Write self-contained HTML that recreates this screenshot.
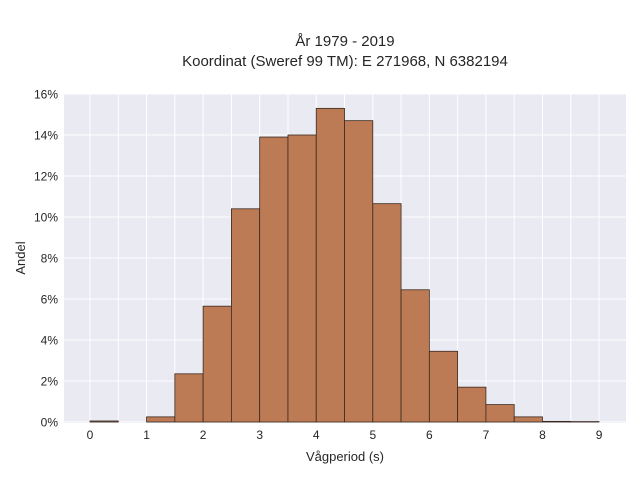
<!DOCTYPE html>
<html><head><meta charset="utf-8"><style>
body{margin:0;background:#fff;}
svg text{font-family:"Liberation Sans",sans-serif;fill:#262626;}
</style></head><body>
<svg width="640" height="480">
<rect x="0" y="0" width="640" height="480" fill="#fff"/>
<text x="345" y="46" text-anchor="middle" font-size="15">År 1979 - 2019</text>
<text x="345" y="66" text-anchor="middle" font-size="15">Koordinat (Sweref 99 TM): E 271968, N 6382194</text>
<rect x="64" y="94" width="562" height="329" fill="#eaeaf2"/>
<g id="grid"></g>
<g id="bars"></g>
<g id="ticks"></g>
<text x="345" y="461" text-anchor="middle" font-size="13">Vågperiod (s)</text>
<text transform="translate(25,258) rotate(-90)" text-anchor="middle" font-size="13">Andel</text>
</svg>
<script>
const binStarts=[0,0.5,1,1.5,2,2.5,3,3.5,4,4.5,5,5.5,6,6.5,7,7.5,8,8.5];
const binValues=[0.05,0,0.25,2.35,5.65,10.4,13.9,14.0,15.3,14.7,10.65,6.45,3.45,1.7,0.85,0.25,0.03,0.02];
const xTicks=[0,1,2,3,4,5,6,7,8,9];
const yTicks=[0,2,4,6,8,10,12,14,16];
const binWidth=0.5;
const NS="http://www.w3.org/2000/svg";
const X=v=>90+v*56.56;
const Y=v=>422-v*20.5;
const grid=document.getElementById('grid'),bars=document.getElementById('bars'),ticks=document.getElementById('ticks');
for(let i=-0.5;i<=9.5;i+=0.5){const x=X(i);if(x<64||x>626)continue;
 const l=document.createElementNS(NS,'line');l.setAttribute('x1',x);l.setAttribute('x2',x);l.setAttribute('y1',94);l.setAttribute('y2',423);l.setAttribute('stroke','#fff');l.setAttribute('stroke-width','1');
 
 
 grid.appendChild(l);}
yTicks.forEach(v=>{const y=Y(v);
 const l=document.createElementNS(NS,'line');l.setAttribute('x1',64);l.setAttribute('x2',626);l.setAttribute('y1',y);l.setAttribute('y2',y);l.setAttribute('stroke','#fff');
 
 
 grid.appendChild(l);
 const t=document.createElementNS(NS,'text');t.setAttribute('x',58);t.setAttribute('y',y+4.5);t.setAttribute('text-anchor','end');t.setAttribute('font-size','12');t.textContent=v+'%';
 
 
 ticks.appendChild(t);});
xTicks.forEach(v=>{const t=document.createElementNS(NS,'text');t.setAttribute('x',X(v));t.setAttribute('y',439);t.setAttribute('text-anchor','middle');t.setAttribute('font-size','12');t.textContent=v;
 
 
 ticks.appendChild(t);});
binStarts.forEach((s,i)=>{const v=binValues[i];const x0=X(s),x1=X(s+binWidth),y=Y(v);
 const r=document.createElementNS(NS,'rect');r.setAttribute('x',x0);r.setAttribute('width',x1-x0);r.setAttribute('y',y);r.setAttribute('height',Math.max(0,Y(0)-y));
 r.setAttribute('fill','#bd7b55');r.setAttribute('stroke','#3a2a20');r.setAttribute('stroke-width','0.8');
 
 
 bars.appendChild(r);});
</script>
</body></html>
